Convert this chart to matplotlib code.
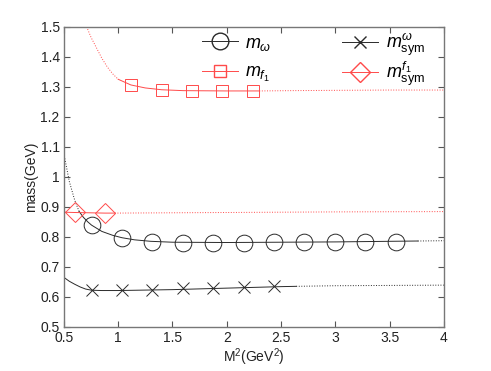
import numpy as np
import matplotlib
matplotlib.use("Agg")
import matplotlib.pyplot as plt
from matplotlib.lines import Line2D

plt.rcParams['font.family'] = ['Liberation Sans', 'DejaVu Sans']
plt.rcParams['mathtext.fontset'] = 'custom'
plt.rcParams['mathtext.rm'] = 'Liberation Sans'
plt.rcParams['mathtext.it'] = 'Liberation Sans:italic'

# --- data ---
# m_omega (circles)
omega_x = [0.755, 1.035, 1.315, 1.595, 1.875, 2.155, 2.435, 2.715, 2.995, 3.275, 3.555]
omega_y = [0.839, 0.795, 0.783, 0.781, 0.781, 0.781, 0.782, 0.782, 0.783, 0.784, 0.784]
# m_sym^omega (crosses)
symw_x = [0.755, 1.035, 1.315, 1.595, 1.875, 2.155, 2.435]
symw_y = [0.622, 0.622, 0.624, 0.628, 0.631, 0.633, 0.635]
# m_f1 (squares)
f1_x = [1.117, 1.40, 1.68, 1.96, 2.24]
f1_y = [1.306, 1.289, 1.286, 1.286, 1.286]
# m_sym^f1 (diamonds)
symf_x = [0.601, 0.878]
symf_y = [0.881, 0.879]

# fitted curves: solid part and dotted extrapolations
omega_fit_x = [0.64, 0.68, 0.72, 0.755, 0.85, 0.95, 1.035, 1.15, 1.3, 1.5, 2.0, 2.5, 3.0, 3.5, 3.76]
omega_fit_y = [0.885, 0.865, 0.85, 0.839, 0.818, 0.805, 0.797, 0.79, 0.785, 0.782, 0.781, 0.782, 0.783, 0.785, 0.786]
omega_ext_lo_x = [0.5, 0.55, 0.6, 0.64]
omega_ext_lo_y = [1.078, 0.985, 0.922, 0.885]
omega_ext_hi_x = [3.76, 4.0]
omega_ext_hi_y = [0.786, 0.787]

symw_fit_x = [0.5, 0.55, 0.6, 0.65, 0.7, 0.755, 0.85, 1.0, 1.5, 2.0, 2.5, 2.64]
symw_fit_y = [0.665, 0.652, 0.642, 0.633, 0.626, 0.622, 0.621, 0.621, 0.624, 0.629, 0.634, 0.635]
symw_ext_x = [2.64, 3.0, 3.5, 4.0]
symw_ext_y = [0.635, 0.637, 0.638, 0.639]

f1_fit_x = [1.0, 1.117, 1.25, 1.4, 1.6, 2.0, 2.3]
f1_fit_y = [1.325, 1.306, 1.296, 1.29, 1.287, 1.286, 1.286]
f1_ext_lo_x = [0.71, 0.75, 0.8, 0.85, 0.9, 0.95, 1.0]
f1_ext_lo_y = [1.5, 1.465, 1.43, 1.395, 1.366, 1.343, 1.325]
f1_ext_hi_x = [2.3, 2.6, 3.0, 3.5, 4.0]
f1_ext_hi_y = [1.286, 1.287, 1.288, 1.289, 1.289]

symf_fit_x = [0.5, 0.601, 0.878, 0.97]
symf_fit_y = [0.882, 0.881, 0.879, 0.879]
symf_ext_x = [0.97, 2.0, 3.0, 4.0]
symf_ext_y = [0.879, 0.881, 0.883, 0.884]

xticks = [0.5, 1, 1.5, 2, 2.5, 3, 3.5, 4]
xticklabels = ['0.5', '1', '1.5', '2', '2.5', '3', '3.5', '4']
yticks = [0.5, 0.6, 0.7, 0.8, 0.9, 1.0, 1.1, 1.2, 1.3, 1.4, 1.5]
yticklabels = ['0.5', '0.6', '0.7', '0.8', '0.9', '1', '1.1', '1.2', '1.3', '1.4', '1.5']

black = '#2a2a2a'
red = '#ff4a4a'
lw = 0.7

fig = plt.figure(figsize=(4.91, 3.71), dpi=100)
ax = fig.add_axes([0.130, 0.119, 0.774, 0.809])

# curves
ax.plot(omega_fit_x, omega_fit_y, '-', color=black, lw=lw)
ax.plot(omega_ext_lo_x, omega_ext_lo_y, ':', color=black, lw=lw)
ax.plot(omega_ext_hi_x, omega_ext_hi_y, ':', color=black, lw=lw)
ax.plot(symw_fit_x, symw_fit_y, '-', color=black, lw=lw)
ax.plot(symw_ext_x, symw_ext_y, ':', color=black, lw=lw)
ax.plot(f1_fit_x, f1_fit_y, '-', color=red, lw=lw)
ax.plot(f1_ext_lo_x, f1_ext_lo_y, ':', color=red, lw=lw)
ax.plot(f1_ext_hi_x, f1_ext_hi_y, ':', color=red, lw=lw)
ax.plot(symf_fit_x, symf_fit_y, '-', color=red, lw=lw)
ax.plot(symf_ext_x, symf_ext_y, ':', color=red, lw=lw)

# data points
ax.plot(omega_x, omega_y, 'o', mfc='none', mec=black, ms=12, mew=lw)
ax.plot(symw_x, symw_y, 'x', color=black, ms=8, mew=lw)
ax.plot(f1_x, f1_y, 's', mfc='none', mec=red, ms=8.5, mew=lw)
ax.plot(symf_x, symf_y, 'D', mfc='none', mec=red, ms=10, mew=lw)

ax.set_xlim(0.5, 4)
ax.set_ylim(0.5, 1.5)
ax.set_xticks(xticks)
ax.set_xticklabels(xticklabels)
ax.set_yticks(yticks)
ax.set_yticklabels(yticklabels)
ax.tick_params(direction='in', top=True, right=True, length=4, width=0.8,
               colors='#555555', labelcolor='#222222', labelsize=10, pad=3)
for sp in ax.spines.values():
    sp.set_color('#777777')
    sp.set_linewidth(1.0)
ax.set_xlabel(r'M$^2$(GeV$^2$)', fontsize=10, color='#222222', labelpad=1)
ax.set_ylabel('mass(GeV)', fontsize=10, color='#222222', labelpad=2)

# legend: two columns drawn as two legends so the rows line up
h_omega = Line2D([], [], color=black, lw=lw, marker='o', mfc='none', ms=12)
h_f1 = Line2D([], [], color=red, lw=lw, marker='s', mfc='none', ms=8.5)
h_symw = Line2D([], [], color=black, lw=lw, marker='x', ms=8)
h_symf = Line2D([], [], color=red, lw=lw, marker='D', mfc='none', ms=10)

leg1 = ax.legend([h_omega, h_f1], [r'$m_\omega$', r'$m_{f_1}$'],
                 frameon=False, loc='upper left', bbox_to_anchor=(0.32, 1.028),
                 fontsize=13, handlelength=2.0, labelspacing=0.64, handletextpad=0.4)
ax.add_artist(leg1)
ax.legend([h_symw, h_symf], [r'$m^{\omega}_{\mathrm{sym}}$', r'$m^{f_1}_{\mathrm{sym}}$'],
          frameon=False, loc='upper left', bbox_to_anchor=(0.69, 1.038),
          fontsize=13, handlelength=2.0, labelspacing=0.08, handletextpad=0.4)

fig.savefig('out.png', dpi=100)
